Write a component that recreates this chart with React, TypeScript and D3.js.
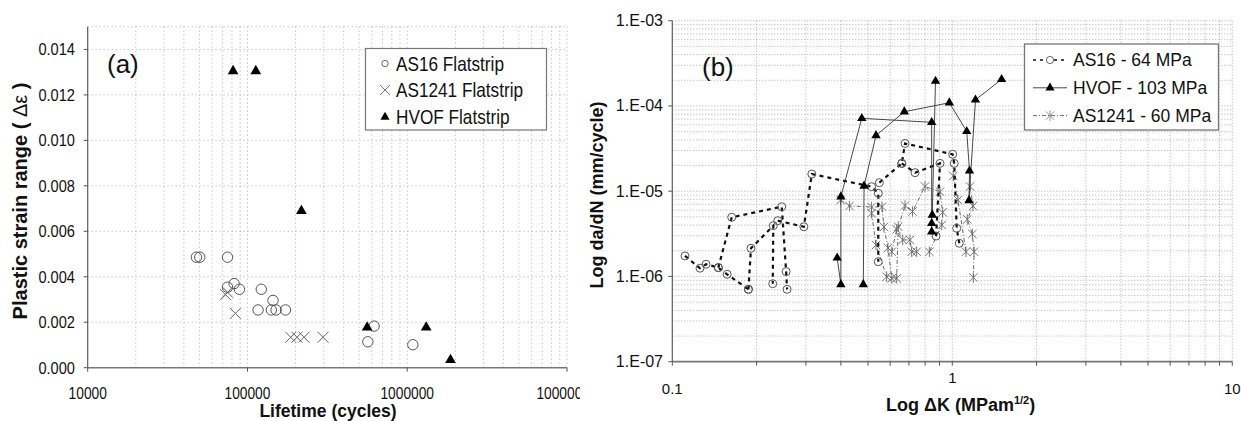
import React from 'react';
import * as d3 from 'd3';

// ---------- Panel (a) data ----------
const as16Life = [47900, 50300, 75000, 75000, 82500, 89100, 122000, 116500, 144500, 141000, 151000, 173000, 620000, 567000, 1084000];
const as16Strain = [0.00486, 0.00486, 0.00486, 0.00354, 0.0037, 0.00345, 0.00345, 0.00254, 0.00296, 0.00254, 0.00254, 0.00254, 0.00183, 0.00114, 0.00101];
const as1241Life = [72900, 75000, 84100, 186500, 204000, 226000, 297000];
const as1241Strain = [0.00321, 0.00332, 0.00239, 0.00134, 0.00134, 0.00134, 0.00134];
const hvofLife = [81300, 112700, 217600, 561000, 1314000, 1865000];
const hvofStrain = [0.01305, 0.01305, 0.0069, 0.00177, 0.00177, 0.00034];
const strainTicks = [0, 0.002, 0.004, 0.006, 0.008, 0.01, 0.012, 0.014];
const lifeTicks = [10000, 100000, 1000000, 10000000];
const legendA = ['AS16 Flatstrip', 'AS1241  Flatstrip', 'HVOF Flatstrip'];

// ---------- Panel (b) data: [ΔK, da/dN] per specimen ----------
const as16S1 = [[0.111, 1.74e-6], [0.1256, 1.25e-6], [0.132, 1.39e-6], [0.146, 1.27e-6], [0.157, 1.06e-6], [0.187, 7.06e-7]];
const as16S2 = [[0.146, 1.27e-6], [0.163, 4.94e-6], [0.246, 6.58e-6], [0.255, 1.14e-6], [0.257, 7.06e-7]];
const as16S3 = [[0.187, 7.06e-7], [0.191, 2.14e-6], [0.2295, 3.94e-6], [0.2284, 8.22e-7]];
const as16S4 = [[0.238, 4.51e-6], [0.295, 3.83e-6], [0.315, 1.59e-5], [0.515, 1.13e-5], [0.544, 9.45e-6], [0.544, 1.49e-6]];
const as16S5 = [[0.549, 1.26e-5], [0.66, 2.12e-5], [0.678, 3.63e-5], [1.003, 2.71e-5], [1.016, 2.12e-5], [1.037, 3.67e-6], [1.059, 2.45e-6]];
const as16S6 = [[0.66, 2.12e-5], [0.736, 1.65e-5], [0.904, 2.12e-5], [0.875, 2.98e-6]];

const hvofS1 = [[0.388, 1.65e-6], [0.4, 8.04e-7], [0.4, 8.62e-6], [0.475, 7.16e-5], [0.844, 6.43e-5], [0.844, 4.2e-6], [0.844, 3.35e-6]];
const hvofS2 = [[0.481, 8.04e-7], [0.484, 1.15e-5], [0.534, 4.5e-5], [0.674, 8.56e-5], [0.976, 1.09e-4], [1.126, 5.04e-5], [1.152, 1.73e-5], [1.147, 7.78e-6], [1.21, 1.18e-4], [1.5, 2.05e-4]];
const hvofS3 = [[0.848, 5.26e-6], [0.871, 1.96e-4]];

const as1241S1 = [[0.399, 7.88e-6], [0.429, 6.71e-6], [0.515, 6.53e-6], [0.561, 6.58e-6], [0.57, 3.8e-6], [0.589, 2.16e-6], [0.608, 9.51e-7]];
const as1241S2 = [[0.515, 5.51e-6], [0.534, 2.34e-6], [0.583, 9.93e-7], [0.633, 9.51e-7], [0.641, 3.83e-6], [0.678, 6.8e-6], [0.721, 5.78e-6], [0.799, 1.135e-5], [0.904, 9.86e-6], [0.924, 5.65e-6], [0.917, 4.01e-6], [0.828, 1.95e-6]];
const as1241S3 = [[0.608, 1.95e-6], [0.633, 3.57e-6], [0.665, 2.68e-6], [0.706, 2.68e-6], [0.716, 1.95e-6], [0.746, 1.95e-6]];
const as1241S4 = [[1.008, 1.51e-5], [1.048, 7.88e-6], [1.119, 1.95e-6]];
const as1241S5 = [[1.157, 1.135e-5], [1.186, 6.71e-6], [1.131, 4.68e-6], [1.179, 3.15e-6], [1.196, 1.95e-6], [1.189, 9.72e-7]];

const dkTicks = [0.1, 1, 10];
const rateTicks = [1e-7, 1e-6, 1e-5, 1e-4, 1e-3];
const legendB = ['AS16 - 64 MPa', 'HVOF - 103 MPa', 'AS1241 - 60 MPa'];

const as16Specimens = [as16S1, as16S2, as16S3, as16S4, as16S5, as16S6];
const hvofSpecimens = [hvofS1, hvofS2, hvofS3];
const as1241Specimens = [as1241S1, as1241S2, as1241S3, as1241S4, as1241S5];

const FS = "'Liberation Sans', Arial, Helvetica, sans-serif";
const GRID = '#9a9a9a';
const NARROW = 0.86;

function tri(cx: number, cy: number, size: number) {
  const p = d3.symbol().type(d3.symbolTriangle).size(size)() as string;
  return <path d={p} transform={`translate(${cx},${cy})`} fill="#000" />;
}
function cross(cx: number, cy: number, r: number, color: string, key?: any) {
  return <path key={key} d={`M${cx - r},${cy - r}L${cx + r},${cy + r}M${cx - r},${cy + r}L${cx + r},${cy - r}`} stroke={color} strokeWidth={1} fill="none" />;
}
function aster(cx: number, cy: number, r: number, color: string, key?: any) {
  return <path key={key} d={`M${cx - r},${cy - r}L${cx + r},${cy + r}M${cx - r},${cy + r}L${cx + r},${cy - r}M${cx},${cy - r * 1.25}L${cx},${cy + r * 1.25}`} stroke={color} strokeWidth={0.9} fill="none" />;
}
function NText(props: { x: number; y: number; size: number; anchor?: string; children: any; k?: any }) {
  return (
    <text key={props.k} transform={`translate(${props.x},${props.y}) scale(${NARROW},1)`} textAnchor={props.anchor || 'start'} fontFamily={FS} fontSize={props.size} fill="#111">
      {props.children}
    </text>
  );
}

export default function App() {
  // Panel (a) scales
  const xL = d3.scaleLog().domain([1e4, 1e7]).range([87.7, 567]);
  const yL = d3.scaleLinear().domain([0, 0.015]).range([367.7, 26.7]);
  // Panel (b) scales
  const xR = d3.scaleLog().domain([0.1, 10]).range([672.3, 1232.3]);
  const yR = d3.scaleLog().domain([1e-7, 1e-3]).range([361.7, 20.7]);

  const lineR = d3.line<number[]>().x(d => xR(d[0])).y(d => yR(d[1]));
  const fmt3 = d3.format('.3f');
  const fmtE = (v: number) => '1.E-' + String(Math.round(-Math.log10(v))).padStart(2, '0');

  const xLminor = xL.ticks();
  const xRminor = xR.ticks();
  const yRminor = yR.ticks();

  return (
    <svg width={1241} height={421} style={{ position: 'absolute', left: 0, top: 0, background: '#fff' }}>
      <rect x={0} y={0} width={1241} height={421} fill="#fff" />
      <defs>
        <clipPath id="clipA"><rect x={0} y={0} width={580} height={421} /></clipPath>
      </defs>

      {/* ===================== Panel (a) ===================== */}
      <g clipPath="url(#clipA)">
        {xLminor.map((t, i) => (
          <line key={'gvx' + i} x1={xL(t)} x2={xL(t)} y1={yL(0.015)} y2={yL(0)} stroke={GRID} strokeWidth={0.8} strokeDasharray="1 3" />
        ))}
        {[...strainTicks.slice(1), 0.015].map((t, i) => (
          <line key={'ghy' + i} x1={xL(1e4)} x2={xL(1e7)} y1={yL(t)} y2={yL(t)} stroke={GRID} strokeWidth={0.8} strokeDasharray="1 3" />
        ))}
        <line x1={xL(1e4)} x2={xL(1e4)} y1={yL(0.015)} y2={yL(0)} stroke="#555" strokeWidth={1.1} />
        <line x1={xL(1e4)} x2={xL(1e7)} y1={yL(0)} y2={yL(0)} stroke="#777" strokeWidth={1.6} />
        {strainTicks.map((t, i) => (
          <g key={'yt' + i}>
            <line x1={xL(1e4) - 4} x2={xL(1e4)} y1={yL(t)} y2={yL(t)} stroke="#555" strokeWidth={1} />
            <NText x={75} y={yL(t) + 6} size={17} anchor="end">{fmt3(t)}</NText>
          </g>
        ))}
        {lifeTicks.map((t, i) => (
          <g key={'xt' + i}>
            <line x1={xL(t)} x2={xL(t)} y1={yL(0)} y2={yL(0) + 4} stroke="#555" strokeWidth={1} />
            <NText x={xL(t)} y={399} size={16} anchor="middle">{String(t)}</NText>
          </g>
        ))}
        <text x={328} y={417} textAnchor="middle" fontFamily={FS} fontWeight="bold" fontSize={17.5} fill="#111">Lifetime (cycles)</text>
        <text transform={`translate(27,201) rotate(-90)`} textAnchor="middle" fontFamily={FS} fontWeight="bold" fontSize={20} fill="#111">
          Plastic strain range ( <tspan fontWeight="normal">Δε</tspan> )
        </text>
        <text x={107} y={73} fontFamily={FS} fontSize={26} fill="#111">(a)</text>

        {as16Life.map((v, i) => (
          <circle key={'c' + i} cx={xL(v)} cy={yL(as16Strain[i])} r={5.2} fill="none" stroke="#555" strokeWidth={1} />
        ))}
        {as1241Life.map((v, i) => cross(xL(v), yL(as1241Strain[i]), 5.5, '#666', 'x' + i))}
        {hvofLife.map((v, i) => <g key={'t' + i}>{tri(xL(v), yL(hvofStrain[i]), 50)}</g>)}

        <rect x={365.5} y={48.5} width={181} height={81.5} fill="#fff" stroke="#777" strokeWidth={1.2} />
        {legendA.map((s, i) => {
          const y = 63.5 + i * 26.5;
          return (
            <g key={'la' + i}>
              {i === 0 && <circle cx={385} cy={y} r={3.2} fill="none" stroke="#666" strokeWidth={1} />}
              {i === 1 && cross(385, y, 5, '#777')}
              {i === 2 && tri(385, y + 0.5, 36)}
              <NText x={396} y={y + 7} size={20}>{s}</NText>
            </g>
          );
        })}
      </g>

      {/* ===================== Panel (b) ===================== */}
      <g>
        {xRminor.map((t, i) => (
          <line key={'rgx' + i} x1={xR(t)} x2={xR(t)} y1={yR(1e-3)} y2={yR(1e-7)} stroke={GRID} strokeWidth={0.8} strokeDasharray="1 2" />
        ))}
        {yRminor.map((t, i) => (
          <line key={'rgy' + i} x1={xR(0.1)} x2={xR(10)} y1={yR(t)} y2={yR(t)} stroke={GRID} strokeWidth={0.8} strokeDasharray="1 2" />
        ))}
        <line x1={xR(0.1)} x2={xR(0.1)} y1={yR(1e-3)} y2={yR(1e-7)} stroke="#555" strokeWidth={1.1} />
        <line x1={xR(0.1)} x2={xR(10)} y1={yR(1e-7)} y2={yR(1e-7)} stroke="#777" strokeWidth={1.8} />
        {xRminor.map((t, i) => (
          <line key={'rxt' + i} x1={xR(t)} x2={xR(t)} y1={yR(1e-7)} y2={yR(1e-7) + 4} stroke="#555" strokeWidth={1} />
        ))}
        {rateTicks.map((t, i) => (
          <g key={'ryt' + i}>
            <line x1={xR(0.1) - 4} x2={xR(0.1)} y1={yR(t)} y2={yR(t)} stroke="#555" strokeWidth={1} />
            <text x={663} y={yR(t) + 5.5} textAnchor="end" fontFamily={FS} fontSize={16} fill="#111">{fmtE(t)}</text>
          </g>
        ))}
        {dkTicks.map((t, i) => (
          <text key={'rxl' + i} x={xR(t)} y={t === 1 ? 383 : 394} textAnchor="middle" fontFamily={FS} fontSize={15} fill="#111">{String(t)}</text>
        ))}
        <text x={886} y={411} fontFamily={FS} fontWeight="bold" fontSize={18} fill="#111">
          Log ΔK  (MPam<tspan fontSize={11} dy={-7}>1/2</tspan><tspan dy={7}>)</tspan>
        </text>
        <text transform={`translate(603,195) rotate(-90)`} textAnchor="middle" fontFamily={FS} fontWeight="bold" fontSize={18} fill="#111">Log da/dN (mm/cycle)</text>
        <text x={702} y={76} fontFamily={FS} fontSize={26} fill="#111">(b)</text>

        {as1241Specimens.map((s, i) => (
          <path key={'wl' + i} d={lineR(s) as string} fill="none" stroke="#666" strokeWidth={1} strokeDasharray="4 2 1 2" />
        ))}
        {as1241Specimens.flatMap((s, i) => s.map((d, j) => aster(xR(d[0]), yR(d[1]), 4.2, '#666', 'wm' + i + '-' + j)))}

        {as16Specimens.map((s, i) => (
          <path key={'cl' + i} d={lineR(s) as string} fill="none" stroke="#111" strokeWidth={2.2} strokeDasharray="4 4" />
        ))}
        {as16Specimens.flatMap((s, i) => s.map((d, j) => (
          <circle key={'cm' + i + '-' + j} cx={xR(d[0])} cy={yR(d[1])} r={4} fill="none" stroke="#555" strokeWidth={1} />
        )))}

        {hvofSpecimens.map((s, i) => (
          <path key={'hl' + i} d={lineR(s) as string} fill="none" stroke="#333" strokeWidth={0.9} />
        ))}
        {hvofSpecimens.flatMap((s, i) => s.map((d, j) => <g key={'hm' + i + '-' + j}>{tri(xR(d[0]), yR(d[1]), 38)}</g>))}

        <rect x={1024.5} y={44} width={194} height={86} fill="#fff" stroke="#777" strokeWidth={1.3} />
        {legendB.map((s, i) => {
          const y = 60 + i * 27.8;
          return (
            <g key={'lb' + i}>
              {i === 0 && <>
                <line x1={1033} x2={1067} y1={y} y2={y} stroke="#111" strokeWidth={1.6} strokeDasharray="3 4" />
                <circle cx={1050} cy={y} r={3.6} fill="#fff" stroke="#666" strokeWidth={1} />
              </>}
              {i === 1 && <>
                <line x1={1033} x2={1067} y1={y} y2={y} stroke="#333" strokeWidth={0.9} />
                {tri(1050, y, 36)}
              </>}
              {i === 2 && <>
                <line x1={1033} x2={1067} y1={y} y2={y} stroke="#666" strokeWidth={1} strokeDasharray="4 2 1 2" />
                {aster(1050, y, 4.2, '#888')}
              </>}
              <text x={1073} y={y + 6.3} fontFamily={FS} fontSize={17.5} fill="#111">{s}</text>
            </g>
          );
        })}
      </g>
    </svg>
  );
}
